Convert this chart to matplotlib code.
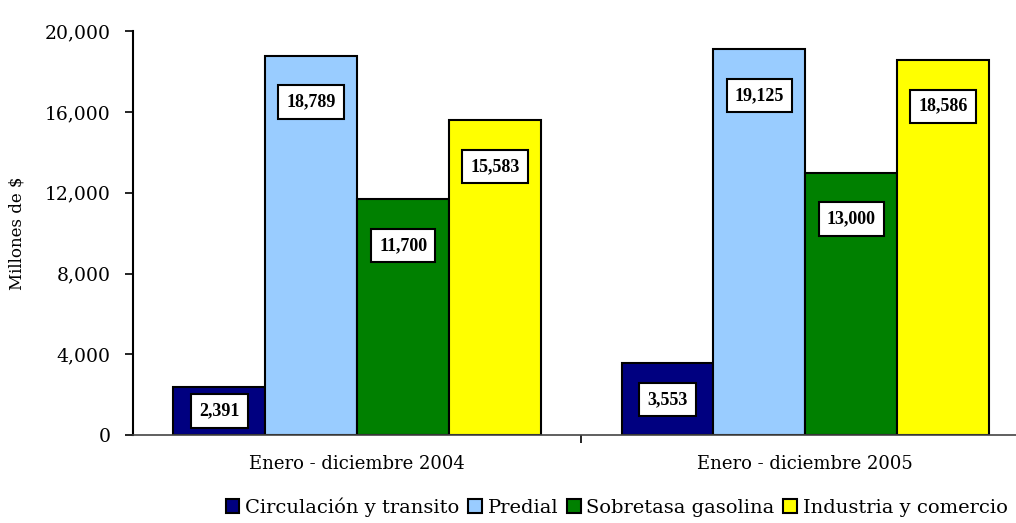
import numpy as np
import matplotlib
matplotlib.use("Agg")
import matplotlib.pyplot as plt
from matplotlib.ticker import FuncFormatter

# datos
periodos = ["Enero - diciembre 2004", "Enero - diciembre 2005"]
series = ["Circulación y transito", "Predial", "Sobretasa gasolina", "Industria y comercio"]
circulacion = [2391, 3553]
predial = [18789, 19125]
sobretasa = [11700, 13000]
industria = [15583, 18586]

colores = ["#000080", "#99CCFF", "#008000", "#FFFF00"]

plt.rcParams["font.family"] = ["DejaVu Serif"]

fig = plt.figure(figsize=(10.16, 5.23), dpi=100)
ax = fig.add_axes([0.131, 0.168, 0.869, 0.7725])

x = np.arange(len(periodos))
ancho = 0.205
valores = [circulacion, predial, sobretasa, industria]

for i, (nombre, vals) in enumerate(zip(series, valores)):
    pos = x + (i - 1.5) * ancho
    ax.bar(pos, vals, ancho, color=colores[i], edgecolor="black",
           linewidth=1.5, label=nombre, zorder=2)
    for xp, v in zip(pos, vals):
        # etiqueta dentro de la barra, cerca del extremo
        yl = max(v - 2300, v / 2)
        ax.text(xp, yl, f"{v:,}", ha="center", va="center",
                fontsize=13, fontweight="bold", family="Liberation Serif",
                zorder=3,
                bbox=dict(boxstyle="square,pad=0.45", fc="white",
                          ec="black", lw=1.5))

ax.set_ylim(0, 20000)
ax.set_xlim(-0.5, 1.47)
ax.set_yticks(np.arange(0, 20001, 4000))
ax.yaxis.set_major_formatter(FuncFormatter(lambda v, p: f"{int(v):,}"))
ax.set_xticks(x)
ax.set_xticklabels(periodos, fontsize=13)
ax.set_xticks([0.5], minor=True)
ax.tick_params(axis="x", which="major", length=0, pad=14)
ax.tick_params(axis="x", which="minor", length=6, width=1.2, direction="out")
ax.tick_params(axis="y", labelsize=13.5, length=6, width=1.2, direction="out", pad=10)
ax.set_ylabel("Millones de $", fontsize=12, labelpad=14)

for s in ["top", "right"]:
    ax.spines[s].set_visible(False)
ax.spines["left"].set_linewidth(1.5)
ax.spines["bottom"].set_linewidth(1.2)
ax.spines["bottom"].set_color("#444444")

fig.legend(loc="lower center", bbox_to_anchor=(0.607, -0.022), ncol=4,
           frameon=False, prop={"family": "DejaVu Serif", "size": 14},
           handlelength=0.7, handleheight=0.7, handletextpad=0.3,
           columnspacing=0.45)

fig.savefig("out.png", dpi=100)
